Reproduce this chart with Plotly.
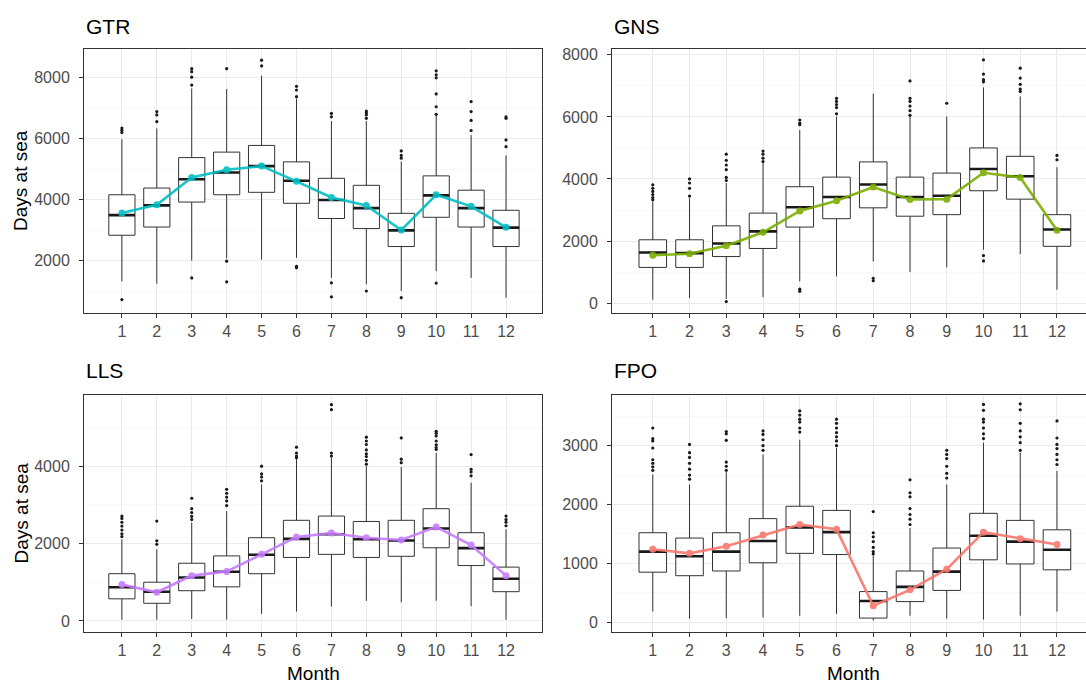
import plotly.graph_objects as go

months = list(range(1, 13))
month_labels = [str(m) for m in months]
panel_names = ["GTR", "GNS", "LLS", "FPO"]
panel_colors = ["#00BFC4", "#7CAE00", "#C77CFF", "#F8766D"]

# ---- GTR ----
gtr_q1 = [2830, 3100, 3920, 4160, 4240, 3880, 3380, 3050, 2460, 3420, 3100, 2460]
gtr_med = [3490, 3810, 4670, 4890, 5100, 4620, 3990, 3720, 2990, 4140, 3720, 3080]
gtr_q3 = [4160, 4380, 5380, 5560, 5780, 5240, 4700, 4470, 3550, 4780, 4310, 3650]
gtr_lo = [1320, 1240, 2000, 2070, 2030, 2090, 1430, 1220, 1000, 1650, 1430, 780]
gtr_hi = [5980, 6340, 7650, 7630, 8070, 7320, 6580, 6580, 5250, 6820, 6120, 5450]
gtr_mean = [3560, 3830, 4730, 4980, 5100, 4600, 4070, 3810, 3000, 4160, 3780, 3090]
gtr_out = [[6350, 6280, 6200, 720], [6890, 6780, 6560], [8300, 8200, 8020, 7760, 1430],
           [8300, 1980, 1300], [8580, 8390], [7720, 7600, 7380, 1810, 1760],
           [6830, 6720, 1270, 810], [6910, 6850, 6780, 6670, 1000], [5600, 5450, 5360, 780],
           [8230, 8100, 8000, 7470, 7050, 6800, 1260], [7220, 6890, 6600, 6270],
           [6720, 6670, 5960, 5740]]

# ---- GNS ----
gns_q1 = [1150, 1150, 1500, 1760, 2450, 2720, 3070, 2800, 2850, 3620, 3350, 1830]
gns_med = [1630, 1610, 1920, 2310, 3090, 3420, 3820, 3420, 3460, 4320, 4090, 2370]
gns_q3 = [2040, 2040, 2490, 2900, 3750, 4060, 4550, 4060, 4190, 5000, 4730, 2850]
gns_lo = [110, 160, 130, 190, 700, 860, 1340, 1000, 1150, 1720, 1580, 430]
gns_hi = [3280, 3380, 3870, 4510, 5580, 6010, 6750, 6010, 6010, 6950, 6660, 4380]
gns_mean = [1540, 1590, 1850, 2280, 2970, 3300, 3740, 3340, 3350, 4200, 4050, 2350]
gns_out = [[3810, 3700, 3600, 3500, 3400, 3330], [4000, 3870, 3700, 3450],
           [4800, 4600, 4450, 4300, 4050, 3950, 50], [4900, 4800, 4670, 4560],
           [5900, 5800, 5750, 450, 380], [6600, 6500, 6400, 6300, 6100], [800, 720],
           [7160, 6600, 6500, 6350, 6200, 6050], [6440],
           [7840, 7380, 7200, 7130, 1530, 1360], [7570, 7250, 7050, 6900, 6820], [4760, 4620]]

# ---- LLS ----
lls_q1 = [570, 455, 780, 880, 1220, 1640, 1720, 1640, 1670, 1890, 1430, 755]
lls_med = [870, 755, 1120, 1270, 1710, 2120, 2240, 2110, 2080, 2390, 1880, 1090]
lls_q3 = [1220, 1000, 1490, 1680, 2150, 2600, 2710, 2570, 2600, 2900, 2280, 1390]
lls_lo = [30, 30, 50, 30, 180, 240, 370, 520, 480, 520, 380, 30]
lls_hi = [2110, 1850, 2540, 2840, 3530, 4200, 4210, 4000, 3980, 4340, 3570, 2370]
lls_mean = [940, 740, 1170, 1280, 1720, 2170, 2270, 2150, 2090, 2430, 1960, 1170]
lls_out = [[2710, 2650, 2550, 2450, 2350, 2250, 2180], [2580, 2070, 1980],
           [3170, 2900, 2800, 2700, 2620], [3400, 3300, 3200, 3100, 2980],
           [4000, 3800, 3720, 3620], [4490, 4340, 4260, 4220], [5590, 5460, 4340, 4260],
           [4750, 4650, 4560, 4420, 4320, 4250, 4150, 4050], [4730, 4180, 4090],
           [4900, 4850, 4780, 4650, 4550, 4480, 4430], [4300, 3920, 3850, 3750],
           [2710, 2620, 2550, 2460]]

# ---- FPO ----
fpo_q1 = [850, 790, 870, 1010, 1170, 1150, 70, 350, 540, 1060, 990, 890]
fpo_med = [1200, 1120, 1200, 1380, 1610, 1530, 360, 600, 860, 1470, 1370, 1230]
fpo_q3 = [1520, 1430, 1520, 1760, 1970, 1900, 520, 870, 1260, 1850, 1730, 1570]
fpo_lo = [180, 60, 70, 80, 110, 140, 30, 110, 60, 45, 110, 180]
fpo_hi = [2510, 2340, 2550, 2850, 3100, 2960, 1130, 1600, 2340, 3050, 2880, 2570]
fpo_mean = [1240, 1170, 1290, 1480, 1660, 1580, 280, 550, 900, 1530, 1420, 1320]
fpo_out = [[3300, 3120, 3080, 2960, 2760, 2700, 2640, 2580],
           [3020, 2880, 2800, 2700, 2600, 2500, 2430],
           [3240, 3200, 3090, 2720, 2650, 2580], [3250, 3190, 3100, 3000, 2920],
           [3590, 3520, 3450, 3400, 3300, 3230], [3450, 3380, 3300, 3220, 3150, 3080, 3000],
           [1880, 1520, 1450, 1370, 1270, 1200, 1160],
           [2420, 2200, 2130, 1930, 1830, 1750, 1660],
           [2920, 2850, 2780, 2650, 2530, 2450],
           [3700, 3600, 3450, 3400, 3300, 3200, 3120],
           [3710, 3610, 3380, 3250, 3150, 3050, 2920],
           [3420, 3130, 3020, 2950, 2850, 2760, 2680]]

y_ticks = [[2000, 4000, 6000, 8000], [0, 2000, 4000, 6000, 8000], [0, 2000, 4000], [0, 1000, 2000, 3000]]

panels = [
    (gtr_q1, gtr_med, gtr_q3, gtr_lo, gtr_hi, gtr_mean, gtr_out),
    (gns_q1, gns_med, gns_q3, gns_lo, gns_hi, gns_mean, gns_out),
    (lls_q1, lls_med, lls_q3, lls_lo, lls_hi, lls_mean, lls_out),
    (fpo_q1, fpo_med, fpo_q3, fpo_lo, fpo_hi, fpo_mean, fpo_out),
]

W, H = 1086, 684
FONT = "Liberation Sans, Arial, sans-serif"
BOXW = 0.75

# pixel layout of plot panels (left, right, top, bottom)
px = [(84, 542, 47, 312), (612, 1086, 47, 312), (84, 542, 394, 632), (612, 1086, 394, 632)]
x_ranges = [[-0.085, 13.03], [-0.11, 12.79], [-0.085, 13.03], [-0.11, 12.79]]
y_ranges = [[275, 8950], [-322, 8193], [-291, 5843], [-169, 3863]]
y_minor = [1000, 1000, 1000, 500]

fig = go.Figure()
for i, (q1, med, q3, lo, hi, mean, out) in enumerate(panels):
    xa = "x" if i == 0 else f"x{i+1}"
    ya = "y" if i == 0 else f"y{i+1}"
    fig.add_trace(go.Box(
        x=months, q1=q1, median=med, q3=q3, lowerfence=lo, upperfence=hi,
        width=BOXW, fillcolor="white", line=dict(color="#333333", width=1),
        whiskerwidth=0, xaxis=xa, yaxis=ya, hoverinfo="skip", boxpoints=False,
    ))
    ox, oy = [], []
    for m, vals in zip(months, out):
        for v in vals:
            ox.append(m)
            oy.append(v)
    fig.add_trace(go.Scatter(x=ox, y=oy, mode="markers",
                             marker=dict(color="#1A1A1A", size=3.2),
                             xaxis=xa, yaxis=ya, hoverinfo="skip"))
    mx, my = [], []
    for m, v in zip(months, med):
        mx += [m - BOXW / 2, m + BOXW / 2, None]
        my += [v, v, None]
    fig.add_trace(go.Scatter(x=mx, y=my, mode="lines",
                             line=dict(color="#1A1A1A", width=2.6),
                             xaxis=xa, yaxis=ya, hoverinfo="skip"))
    fig.add_trace(go.Scatter(x=months, y=mean, mode="lines+markers",
                             line=dict(color=panel_colors[i], width=2.6),
                             marker=dict(color=panel_colors[i], size=7),
                             opacity=0.9, xaxis=xa, yaxis=ya, hoverinfo="skip"))

    l, r, t, b = px[i]
    right_panel = i in (1, 3)
    xk = "xaxis" if i == 0 else f"xaxis{i+1}"
    yk = "yaxis" if i == 0 else f"yaxis{i+1}"
    fig.layout[xk] = dict(
        domain=[l / W, r / W], range=x_ranges[i], anchor=ya,
        tickvals=months, ticktext=month_labels,
        showgrid=True, gridcolor="#EBEBEB", gridwidth=1, zeroline=False,
        showline=True, linecolor="#333333", linewidth=1, mirror=True,
        ticks="outside", ticklen=4, tickcolor="#333333", tickwidth=1,
        tickfont=dict(family=FONT, size=16, color="#4D4D4D"),
        fixedrange=True,
    )
    fig.layout[yk] = dict(
        domain=[1 - b / H, 1 - t / H], range=y_ranges[i], anchor=xa,
        tickvals=y_ticks[i],
        showgrid=True, gridcolor="#EBEBEB", gridwidth=1, zeroline=False,
        minor=dict(dtick=y_minor[i], showgrid=True, gridcolor="#F4F4F4", gridwidth=0.6, ticks=""),
        showline=True, linecolor="#333333", linewidth=1, mirror=not right_panel,
        ticks="outside", ticklen=4, tickcolor="#333333", tickwidth=1,
        tickfont=dict(family=FONT, size=16, color="#4D4D4D"),
        ticklabelstandoff=6,
        fixedrange=True,
    )

annotations = []
title_pos = [(84, 25), (612, 25), (84, 370), (612, 370)]
for name, (x, y) in zip(panel_names, title_pos):
    annotations.append(dict(text=name, x=x / W, y=1 - y / H, xref="paper", yref="paper",
                            xanchor="left", yanchor="middle", showarrow=False,
                            font=dict(family=FONT, size=21, color="black")))
for yc in [(47 + 312) / 2, (394 + 632) / 2]:
    annotations.append(dict(text="Days at sea", x=21 / W, y=1 - yc / H, xref="paper", yref="paper",
                            xanchor="center", yanchor="middle", textangle=-90, showarrow=False,
                            font=dict(family=FONT, size=19, color="black")))
for xc in [(84 + 542) / 2, (612 + 1094) / 2]:
    annotations.append(dict(text="Month", x=xc / W, y=1 - 673 / H, xref="paper", yref="paper",
                            xanchor="center", yanchor="middle", showarrow=False,
                            font=dict(family=FONT, size=19, color="black")))

fig.update_layout(
    width=W, height=H, margin=dict(l=0, r=0, t=0, b=0),
    paper_bgcolor="white", plot_bgcolor="white",
    showlegend=False, annotations=annotations, hovermode=False,
)

fig.write_html(
    "out.html",
    config={"displayModeBar": False, "staticPlot": True},
    post_script="document.body.style.margin='0';document.body.style.overflow='hidden';",
)
